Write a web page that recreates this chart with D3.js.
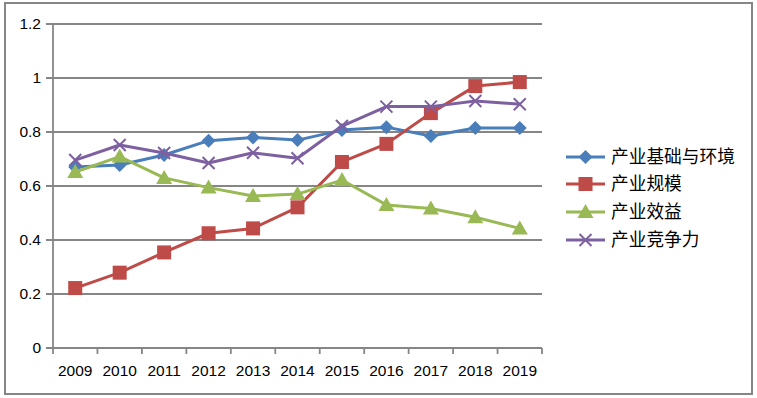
<!DOCTYPE html>
<html><head><meta charset="utf-8">
<script src="https://cdn.jsdelivr.net/npm/d3@7"></script>
<style>body{margin:0;background:#fff;}svg{display:block;}</style>
</head><body>
<svg id="c" width="757" height="398"></svg>
<script>
const years = ["2009","2010","2011","2012","2013","2014","2015","2016","2017","2018","2019"];
const yTicks = [0, 0.2, 0.4, 0.6, 0.8, 1, 1.2];
const seriesNames = ["产业基础与环境","产业规模","产业效益","产业竞争力"];
const baseEnv = [0.670,0.678,0.715,0.768,0.780,0.770,0.807,0.818,0.785,0.815,0.815];
const scale   = [0.222,0.279,0.354,0.425,0.443,0.521,0.689,0.756,0.870,0.970,0.985];
const benefit = [0.652,0.709,0.630,0.594,0.563,0.570,0.622,0.530,0.517,0.484,0.443];
const compete = [0.696,0.752,0.722,0.685,0.723,0.703,0.822,0.894,0.894,0.915,0.903];
const colors = ["#4A7EBB","#BE4B48","#98B954","#7D60A0"];
const markers = ["diamond","square","triangle","x"];
const allSeries = [baseEnv, scale, benefit, compete];

const svg = d3.select("#c");
const font = "'Liberation Sans', Arial, sans-serif";
const grid = "#868686";

svg.append("rect").attr("x",5).attr("y",3).attr("width",747).attr("height",391)
  .attr("fill","#fff").attr("stroke",grid).attr("stroke-width",2);

const x = d3.scaleBand().domain(years).range([53,542]);
const y = d3.scaleLinear().domain([0,1.2]).range([348,24]);

svg.append("g").selectAll("line").data(yTicks).join("line")
  .attr("x1",46).attr("x2",542).attr("y1",d=>y(d)).attr("y2",d=>y(d))
  .attr("stroke",grid).attr("stroke-width",1.8);

svg.append("line").attr("x1",53).attr("x2",53).attr("y1",24).attr("y2",348)
  .attr("stroke",grid).attr("stroke-width",1.8);

svg.append("g").selectAll("text").data(yTicks).join("text")
  .attr("x",41).attr("y",d=>y(d)).attr("dy","0.35em").attr("text-anchor","end")
  .attr("font-family",font).attr("font-size",15.5).attr("fill","#000")
  .text(d=>d3.format("")(d));

const bounds = years.map(d=>x(d)).concat([x.range()[1]]);
svg.append("g").selectAll("line").data(bounds).join("line")
  .attr("x1",d=>d).attr("x2",d=>d).attr("y1",348).attr("y2",354)
  .attr("stroke",grid).attr("stroke-width",1.8);

svg.append("g").selectAll("text").data(years).join("text")
  .attr("x",d=>x(d)+x.bandwidth()/2).attr("y",371).attr("dy","0.35em")
  .attr("text-anchor","middle").attr("font-family",font).attr("font-size",15.5).attr("fill","#000")
  .text(d=>d);

function drawMarker(g, type, color, cx, cy){
  if(type==="diamond"){
    g.append("path").attr("d",`M${cx},${cy-7}L${cx+7},${cy}L${cx},${cy+7}L${cx-7},${cy}Z`).attr("fill",color);
  } else if(type==="square"){
    g.append("rect").attr("x",cx-7).attr("y",cy-7).attr("width",14).attr("height",14).attr("fill",color);
  } else if(type==="triangle"){
    g.append("path").attr("d",`M${cx},${cy-8}L${cx+8},${cy+6}L${cx-8},${cy+6}Z`).attr("fill",color);
  } else {
    g.append("path").attr("d",`M${cx-6},${cy-6}L${cx+6},${cy+6}M${cx+6},${cy-6}L${cx-6},${cy+6}`)
      .attr("stroke",color).attr("stroke-width",2).attr("fill","none");
  }
}

const line = d3.line().x((d,i)=>x(years[i])+x.bandwidth()/2).y(d=>y(d));
allSeries.forEach((s,k)=>{
  const g = svg.append("g");
  g.append("path").attr("d",line(s)).attr("fill","none").attr("stroke",colors[k])
    .attr("stroke-width",3).attr("stroke-linejoin","round");
  s.forEach((v,i)=>drawMarker(g, markers[k], colors[k], x(years[i])+x.bandwidth()/2, y(v)));
});

const legY = [157,184,212,240];
seriesNames.forEach((n,k)=>{
  const g = svg.append("g");
  g.append("line").attr("x1",566).attr("x2",605).attr("y1",legY[k]).attr("y2",legY[k])
    .attr("stroke",colors[k]).attr("stroke-width",3);
  drawMarker(g, markers[k], colors[k], 585.5, legY[k]);
  g.append("text").attr("x",611).attr("y",legY[k]).attr("dy","0.35em")
    .attr("font-family","'Noto Sans CJK SC', sans-serif").attr("font-size",17.7).attr("fill","#000")
    .text(n);
});
</script>
</body></html>
